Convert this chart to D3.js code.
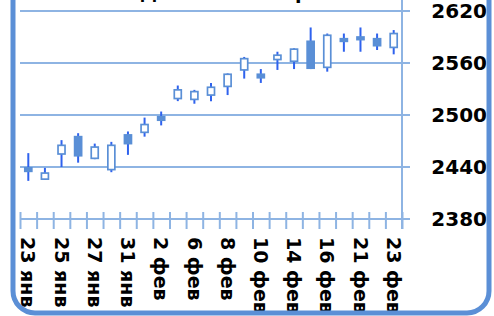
<!DOCTYPE html>
<html>
<head>
<meta charset="utf-8">
<script src="https://cdn.jsdelivr.net/npm/d3@7"></script>
<style>
    body { margin: 0; background: #ffffff; }
    svg { display: block; }
</style>
</head>
<body>
<div id="chart-container"></div>
<script>

// DATA
let dates = ['23 янв', '24 янв', '25 янв', '26 янв', '27 янв', '30 янв', '31 янв', '1 фев',
    '2 фев', '3 фев', '6 фев', '7 фев', '8 фев', '9 фев', '10 фев', '13 фев', '14 фев',
    '15 фев', '16 фев', '20 фев', '21 фев', '22 фев', '23 фев']
let opens  = [2439, 2426, 2455, 2475, 2450, 2437, 2477, 2480, 2498, 2519, 2518, 2523,
    2533, 2552, 2547, 2564, 2562, 2585, 2555, 2588, 2590, 2588, 2578]
let highs  = [2456, 2439, 2471, 2479, 2467, 2469, 2481, 2497, 2504, 2534, 2529, 2537,
    2548, 2567, 2553, 2573, 2577, 2601, 2594, 2594, 2601, 2594, 2598]
let lows   = [2424, 2425, 2440, 2445, 2449, 2434, 2454, 2475, 2488, 2516, 2513, 2516,
    2523, 2542, 2537, 2552, 2553, 2553, 2550, 2573, 2573, 2575, 2570]
let closes = [2435, 2433, 2465, 2453, 2463, 2465, 2467, 2489, 2494, 2529, 2527, 2532,
    2547, 2565, 2543, 2569, 2576, 2554, 2592, 2585, 2587, 2580, 2594]
let yTicks = [2380, 2440, 2500, 2560, 2620]
let labelDates = dates.filter(function(d, i) { return i % 2 === 0 })

let candles = dates.map(function(d, i) {
    return {date: d, open: opens[i], high: highs[i], low: lows[i], close: closes[i]}
})

let svgWidth = 494
let svgHeight = 316
let plot = {left: 20, right: 402, top: -10, bottom: 219}

let gridColor = '#8eb4e3'
let frameColor = '#5b8fd6'
let wickColor = '#2f62ee'
let bodyColor = '#5a8fd6'
let fontFamily = '"DejaVu Sans", sans-serif'

let svg = d3.select('#chart-container')
    .append('svg')
        .attr('width', svgWidth)
        .attr('height', svgHeight)

let x = d3.scaleBand()
    .domain(dates)
    .range([plot.left, plot.right])

let xEdge = d3.scaleLinear()
    .domain([0, dates.length])
    .range([plot.left, plot.right])

let y = d3.scaleLinear()
    .domain([2380, 2620])
    .range([219, 11])

//TITLE (only its lower edge is visible)
svg.append('text')
    .attr('x', 250)
    .attr('y', -1)
    .attr('text-anchor', 'middle')
    .attr('font-family', fontFamily)
    .attr('font-weight', 'bold')
    .attr('font-size', 19)
    .attr('fill', '#000')
    .text('Дневные котировки')

//GRIDLINES
svg.append('g')
    .selectAll('line')
    .data(yTicks)
    .join('line')
        .attr('x1', plot.left)
        .attr('x2', 410)
        .attr('y1', d => y(d))
        .attr('y2', d => y(d))
        .attr('stroke', gridColor)
        .attr('stroke-width', 2)

//RIGHT PLOT EDGE
svg.append('line')
    .attr('x1', plot.right)
    .attr('x2', plot.right)
    .attr('y1', plot.top)
    .attr('y2', 229)
    .attr('stroke', gridColor)
    .attr('stroke-width', 2)

//X-AXIS TICKS (crossing the axis line)
let xTickAxis = svg.append('g')
    .attr('transform', `translate(0, ${y(2380)})`)
    .call(d3.axisBottom(xEdge).tickValues(d3.range(dates.length + 1)).tickSize(10).tickFormat(''))
xTickAxis.select('.domain').remove()
xTickAxis.selectAll('line')
    .attr('y1', -7)
    .attr('stroke', gridColor)
    .attr('stroke-width', 2)

//X-AXIS LABELS
let xLabelAxis = svg.append('g')
    .attr('transform', `translate(0, ${y(2380)})`)
    .call(d3.axisBottom(x).tickValues(labelDates).tickSize(0))
xLabelAxis.select('.domain').remove()
xLabelAxis.selectAll('text')
    .attr('transform', 'rotate(90)')
    .attr('x', 18)
    .attr('y', 0)
    .attr('dy', '0.36em')
    .style('text-anchor', 'start')
    .attr('font-family', fontFamily)
    .attr('font-weight', 'bold')
    .attr('font-size', 19)
    .attr('fill', '#000')

//Y-AXIS LABELS
let yAxis = svg.append('g')
    .attr('transform', 'translate(487, 0)')
    .call(d3.axisLeft(y).tickValues(yTicks).tickSize(0).tickPadding(0).tickFormat(d3.format('d')))
yAxis.select('.domain').remove()
yAxis.selectAll('text')
    .attr('font-family', fontFamily)
    .attr('font-weight', 'bold')
    .attr('font-size', 20)
    .attr('fill', '#000')

//CANDLES
let bodyWidth = 7
let candleGroup = svg.append('g')
    .selectAll('g')
    .data(candles)
    .join('g')
        .attr('transform', d => `translate(${x(d.date) + x.bandwidth() / 2}, 0)`)

candleGroup.append('line')
    .attr('x1', 0)
    .attr('x2', 0)
    .attr('y1', d => y(d.high))
    .attr('y2', d => y(d.low))
    .attr('stroke', wickColor)
    .attr('stroke-width', 2)

candleGroup.append('rect')
    .attr('x', -bodyWidth / 2)
    .attr('width', bodyWidth)
    .attr('y', d => y(Math.max(d.open, d.close)))
    .attr('height', d => Math.max(1, Math.abs(y(d.open) - y(d.close))))
    .attr('fill', d => d.close > d.open ? '#ffffff' : bodyColor)
    .attr('stroke', bodyColor)
    .attr('stroke-width', 1.7)

//FRAME
svg.append('rect')
    .attr('x', 13)
    .attr('y', -60)
    .attr('width', 476)
    .attr('height', 373)
    .attr('rx', 22)
    .attr('fill', 'none')
    .attr('stroke', frameColor)
    .attr('stroke-width', 5)

</script>
</body>
</html>
